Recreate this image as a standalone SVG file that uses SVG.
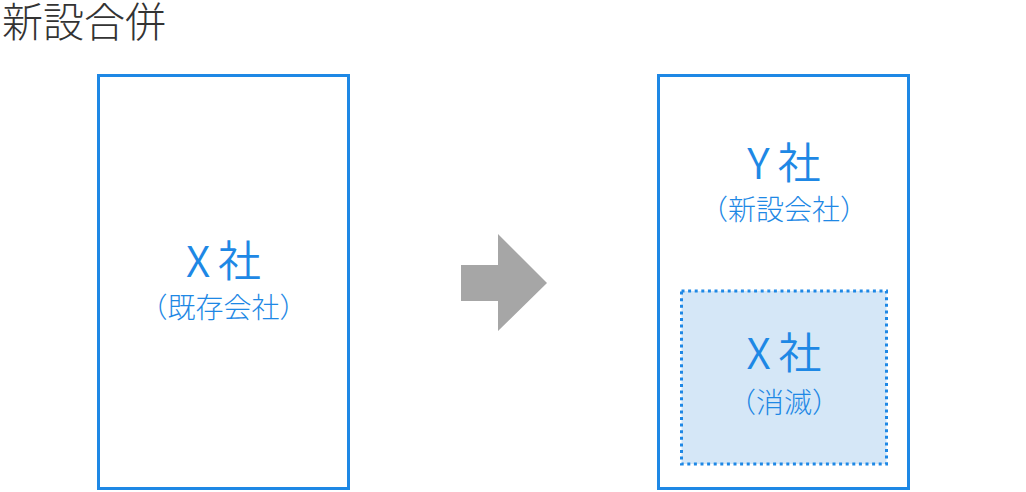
<svg xmlns="http://www.w3.org/2000/svg" width="1026" height="492" viewBox="0 0 1026 492">
<style>
.box{fill:#ffffff;stroke:#1e88e5;stroke-width:3}
.inner{fill:#d5e7f7;stroke:#1e88e5;stroke-width:3;stroke-dasharray:3 3.6}
.t{font-family:"Noto Sans CJK JP","Noto Sans",sans-serif;fill:#1e88e5;text-anchor:middle}
.big{font-size:43px;font-weight:350}
.sub{font-size:28px;font-weight:300}
.title{font-family:"Noto Sans CJK JP","Noto Sans",sans-serif;font-weight:300;font-size:41px;fill:#333333}
</style>
<rect width="1026" height="492" fill="#ffffff"/>
<text class="title" x="2" y="37">新設合併</text>
<g id="x-company">
<rect class="box" x="98.5" y="75.5" width="250" height="413"/>
<text class="t big" x="223.5" y="277">X<tspan dx="8">社</tspan></text>
<text class="t sub" x="223.5" y="318">（既存会社）</text>
</g>
<g id="connectors">
<polygon points="461,265 498,265 498,234 547,283 498,331 498,301 461,301" fill="#a6a6a6"/>
</g>
<g id="y-company">
<rect class="box" x="658.5" y="75.5" width="250" height="413"/>
<text class="t big" x="784" y="179">Y<tspan dx="8">社</tspan></text>
<text class="t sub" x="784" y="220">（新設会社）</text>
</g>
<g id="x-dissolved">
<rect class="inner" x="681.5" y="291" width="205" height="173"/>
<text class="t big" x="784" y="369">X<tspan dx="8">社</tspan></text>
<text class="t sub" x="784" y="413">（消滅）</text>
</g>
</svg>
